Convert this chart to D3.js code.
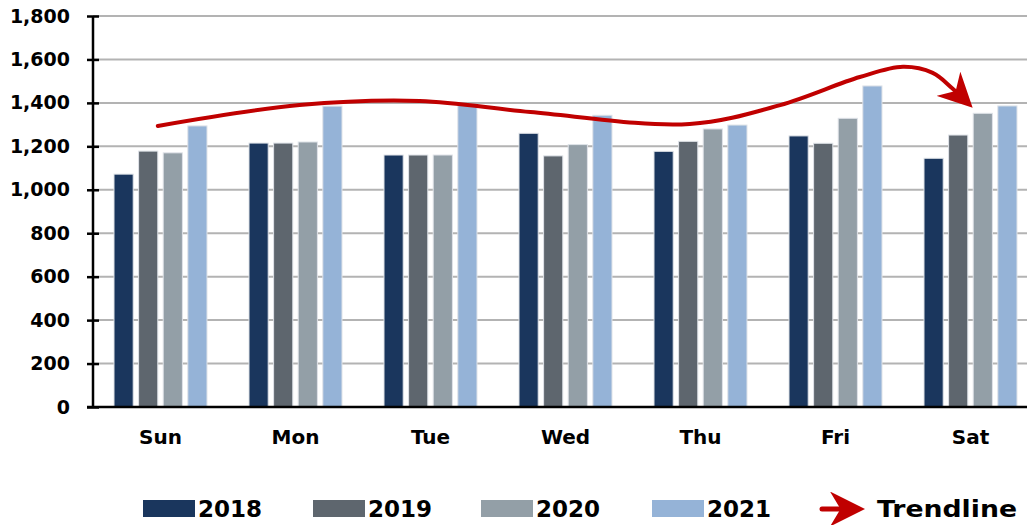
<!DOCTYPE html>
<html><head><meta charset="utf-8">
<script src="https://cdn.jsdelivr.net/npm/d3@7"></script>
<style>html,body{margin:0;padding:0;background:#fff;}svg{display:block;font-family:"DejaVu Sans",sans-serif;font-weight:bold;}</style>
</head><body><svg id="c" width="1027" height="525"></svg>
<script>
const days = ["Sun","Mon","Tue","Wed","Thu","Fri","Sat"];
const years = ["2018","2019","2020","2021"];
const colors = ["#1a365d","#5e666e","#939fa7","#95b3d7"];
const v2018 = [1072,1215,1160,1260,1177,1248,1145];
const v2019 = [1178,1215,1160,1156,1223,1214,1252];
const v2020 = [1170,1220,1160,1208,1280,1329,1352];
const v2021 = [1294,1385,1390,1343,1298,1478,1386];
const yTicks = [0,200,400,600,800,1000,1200,1400,1600,1800];
// trendline: position in day units (0 = Sun) and value
const trendPos = [-0.02,1.03,1.92,2.74,3.92,4.59,5.18,5.50,5.72,5.86,5.98];
const trendVal = [1294,1390,1409,1358,1303,1390,1519,1566,1538,1470,1400];

(function(){
const series = [v2018,v2019,v2020,v2021];
const svg = d3.select("#c");
const L = 93, R = 1038, T = 16, B = 407;
const x = d3.scaleBand().domain(days).range([L,R]).padding(0);
const xi = d3.scaleBand().domain(years).range([-46.5,46.5]).paddingInner(0.22);
const y = d3.scaleLinear().domain([0,1800]).range([B,T]);
const xc = p => x(days[0]) + x.bandwidth()/2 + p*x.step();

// gridlines
svg.append("g").selectAll("line").data(yTicks.filter(d=>d>0)).join("line")
  .attr("x1",L).attr("x2",1027).attr("y1",d=>y(d)).attr("y2",d=>y(d))
  .attr("stroke","#b3b3b3").attr("stroke-width",2);

// bars
days.forEach((d,i)=>{
  svg.append("g").selectAll("rect").data(years).join("rect")
    .attr("x",yr=>x(d)+x.bandwidth()/2+xi(yr))
    .attr("width",xi.bandwidth())
    .attr("y",(yr,k)=>y(series[k][i]))
    .attr("height",(yr,k)=>B-y(series[k][i]))
    .attr("fill",(yr,k)=>colors[k])
    .attr("stroke","#dfe3e8").attr("stroke-width",1);
});

// y axis
const ya = svg.append("g").attr("transform",`translate(${L},0)`)
  .call(d3.axisLeft(y).tickValues(yTicks).tickSize(6).tickFormat(d3.format(",")).tickPadding(17));
ya.select(".domain").remove();
ya.selectAll(".tick line").attr("x1",-6).attr("x2",6).attr("stroke","#000").attr("stroke-width",2.5);
ya.selectAll(".tick text").attr("font-size",19).attr("font-family","DejaVu Sans").attr("font-weight","bold").attr("fill","#000");
svg.append("line").attr("x1",L).attr("x2",L).attr("y1",T).attr("y2",B+1).attr("stroke","#000").attr("stroke-width",2.5);
svg.append("line").attr("x1",L-6).attr("x2",1027).attr("y1",B).attr("y2",B).attr("stroke","#000").attr("stroke-width",2.5);

// x labels
const xa = svg.append("g").attr("transform",`translate(0,${B})`)
  .call(d3.axisBottom(x).tickSize(0).tickPadding(23));
xa.select(".domain").remove();
xa.selectAll(".tick text").attr("font-size",20).attr("font-family","DejaVu Sans").attr("font-weight","bold").attr("fill","#000");

// trendline
const red = "#c00000";
const pts = trendPos.map((p,i)=>[xc(p), y(trendVal[i])]);
const defs = svg.append("defs");
defs.append("marker").attr("id","ah").attr("viewBox","0 0 10 10").attr("refX",8).attr("refY",5)
  .attr("markerWidth",7).attr("markerHeight",7).attr("markerUnits","strokeWidth").attr("orient","auto")
  .append("path").attr("d","M0,0 L10,5 L0,10 L3,5 Z").attr("fill",red);
defs.append("marker").attr("id","ah2").attr("viewBox","0 0 10 10").attr("refX",8).attr("refY",5)
  .attr("markerWidth",8.5).attr("markerHeight",8.5).attr("markerUnits","strokeWidth").attr("orient","auto")
  .append("path").attr("d","M0,0 L10,5 L0,10 L3,5 Z").attr("fill",red);
svg.append("path").attr("d",d3.line().curve(d3.curveCatmullRom.alpha(0.5))(pts))
  .attr("fill","none").attr("stroke",red).attr("stroke-width",4).attr("stroke-linecap","round")
  .attr("marker-end","url(#ah2)");

// legend
const lg = svg.append("g");
const legX = [143,313,481,652];
years.forEach((yr,k)=>{
  lg.append("rect").attr("x",legX[k]).attr("y",500).attr("width",52).attr("height",17).attr("fill",colors[k]);
  lg.append("text").attr("x",legX[k]+55).attr("y",517).attr("font-size",23).attr("fill","#000").text(yr);
});
lg.append("path").attr("d","M822,509 L858,509").attr("stroke",red).attr("stroke-width",5).attr("stroke-linecap","round").attr("marker-end","url(#ah)");
lg.append("text").attr("x",877).attr("y",517).attr("font-size",23).attr("fill","#000")
  .attr("textLength",140).attr("lengthAdjust","spacingAndGlyphs").text("Trendline");
})();
</script></body></html>
